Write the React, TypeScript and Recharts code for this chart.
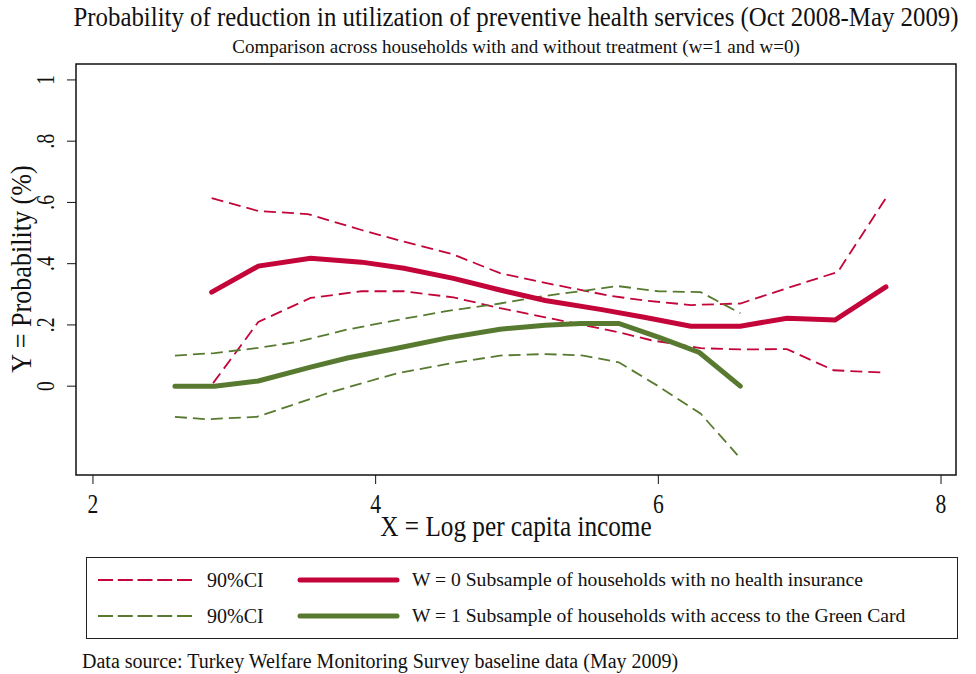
import { LineChart, Line, XAxis, YAxis, ReferenceArea } from 'recharts';

// x = log per capita income, y = probability
const w0Est = [
  { x: 2.84, y: 0.307 }, { x: 3.17, y: 0.392 }, { x: 3.54, y: 0.418 }, { x: 3.9, y: 0.405 },
  { x: 4.2, y: 0.385 }, { x: 4.55, y: 0.352 }, { x: 4.88, y: 0.314 }, { x: 5.2, y: 0.28 },
  { x: 5.6, y: 0.25 }, { x: 5.9, y: 0.225 }, { x: 6.23, y: 0.196 }, { x: 6.58, y: 0.196 },
  { x: 6.91, y: 0.222 }, { x: 7.25, y: 0.216 }, { x: 7.61, y: 0.324 },
];
const w0Upper = [
  { x: 2.84, y: 0.614 }, { x: 3.17, y: 0.572 }, { x: 3.52, y: 0.562 }, { x: 3.9, y: 0.51 },
  { x: 4.2, y: 0.472 }, { x: 4.55, y: 0.43 }, { x: 4.88, y: 0.369 }, { x: 5.17, y: 0.34 },
  { x: 5.66, y: 0.295 }, { x: 5.9, y: 0.28 }, { x: 6.23, y: 0.265 }, { x: 6.58, y: 0.27 },
  { x: 6.91, y: 0.32 }, { x: 7.27, y: 0.373 }, { x: 7.61, y: 0.614 },
];
const w0Lower = [
  { x: 2.85, y: 0.01 }, { x: 3.17, y: 0.21 }, { x: 3.54, y: 0.288 }, { x: 3.9, y: 0.31 },
  { x: 4.2, y: 0.31 }, { x: 4.55, y: 0.29 }, { x: 4.88, y: 0.255 }, { x: 5.2, y: 0.225 },
  { x: 5.71, y: 0.177 }, { x: 5.95, y: 0.15 }, { x: 6.3, y: 0.124 }, { x: 6.58, y: 0.12 },
  { x: 6.91, y: 0.121 }, { x: 7.24, y: 0.052 }, { x: 7.61, y: 0.044 },
];
const w1Est = [
  { x: 2.58, y: 0 }, { x: 2.86, y: 0 }, { x: 3.17, y: 0.017 }, { x: 3.54, y: 0.062 },
  { x: 3.8, y: 0.092 }, { x: 4.15, y: 0.124 }, { x: 4.5, y: 0.157 }, { x: 4.88, y: 0.186 },
  { x: 5.2, y: 0.199 }, { x: 5.45, y: 0.205 }, { x: 5.72, y: 0.205 }, { x: 6.0, y: 0.16 },
  { x: 6.29, y: 0.11 }, { x: 6.58, y: 0 },
];
const w1Upper = [
  { x: 2.58, y: 0.1 }, { x: 2.86, y: 0.108 }, { x: 3.17, y: 0.125 }, { x: 3.44, y: 0.144 },
  { x: 3.8, y: 0.185 }, { x: 4.15, y: 0.216 }, { x: 4.5, y: 0.245 }, { x: 4.88, y: 0.27 },
  { x: 5.2, y: 0.295 }, { x: 5.45, y: 0.31 }, { x: 5.71, y: 0.327 }, { x: 6.0, y: 0.31 },
  { x: 6.3, y: 0.307 }, { x: 6.58, y: 0.238 },
];
const w1Lower = [
  { x: 2.58, y: -0.1 }, { x: 2.8, y: -0.108 }, { x: 3.16, y: -0.1 }, { x: 3.68, y: -0.02 },
  { x: 4.15, y: 0.042 }, { x: 4.5, y: 0.072 }, { x: 4.88, y: 0.1 }, { x: 5.2, y: 0.105 },
  { x: 5.47, y: 0.1 }, { x: 5.72, y: 0.078 }, { x: 6.0, y: 0.0 }, { x: 6.3, y: -0.09 },
  { x: 6.56, y: -0.225 },
];

const xTicks = [2, 4, 6, 8];
const yTicks = [0, 0.2, 0.4, 0.6, 0.8, 1];

const RED = '#c3053a';
const GREEN = '#587a30';
const FONT = '"Liberation Serif", "Times New Roman", serif';

const fmtY = (v: number) => (v === 0 ? '0' : v === 1 ? '1' : String(v).replace(/^0/, ''));

// stata draws its axis labels in a tall, narrow face
function YTick(props: any) {
  const { y, payload } = props;
  return (
    <text x={0} y={0} transform={`translate(46, ${y}) rotate(-90) scale(0.75, 1)`} textAnchor="middle"
      dominantBaseline="central" fontSize={26} fontFamily={FONT} fill="#111">
      {fmtY(payload.value)}
    </text>
  );
}

function XTick(props: any) {
  const { x, payload } = props;
  return (
    <text x={0} y={0} transform={`translate(${x}, 504) scale(0.8, 1)`} textAnchor="middle"
      dominantBaseline="central" fontSize={27} fontFamily={FONT} fill="#111">
      {payload.value}
    </text>
  );
}

const abs = (left: number, top: number, size: number, extra: any = {}) => ({
  position: 'absolute' as const, left, top, fontSize: size, fontFamily: FONT, color: '#111',
  whiteSpace: 'nowrap' as const, lineHeight: 1, ...extra,
});

const dashed = { strokeWidth: 1.8, strokeDasharray: '12 6', dot: false, isAnimationActive: false, type: 'linear' as const };

export default function App() {
  return (
    <div style={{ position: 'absolute', left: 0, top: 0, width: 976, height: 674, background: '#fff' }}>
      <div style={abs(516, 4, 27, { transform: 'translateX(-50%) scaleX(0.92)' })}>
        Probability of reduction in utilization of preventive health services (Oct 2008-May 2009)
      </div>
      <div style={abs(516, 37, 19, { transform: 'translateX(-50%)' })}>
        Comparison across households with and without treatment (w=1 and w=0)
      </div>
      <LineChart width={976} height={674} margin={{ top: 64, left: 16, right: 20, bottom: 159 }}
        style={{ position: 'absolute', left: 0, top: 0 }}>
        <XAxis type="number" dataKey="x" domain={[1.88, 8.106]} ticks={xTicks} allowDataOverflow
          height={40} tickSize={9} stroke="#111" axisLine={false} tickLine={{ stroke: '#111' }} tick={<XTick />} />
        <YAxis type="number" dataKey="y" domain={[-0.29, 1.052]} ticks={yTicks} allowDataOverflow
          width={60} tickSize={9} stroke="#111" axisLine={false} tickLine={{ stroke: '#111' }} tick={<YTick />} />
        <ReferenceArea x1={1.88} x2={8.106} y1={-0.29} y2={1.052} fill="none" stroke="#111" strokeWidth={1.5} />
        <Line data={w0Upper} dataKey="y" stroke={RED} {...dashed} />
        <Line data={w0Lower} dataKey="y" stroke={RED} {...dashed} />
        <Line data={w1Upper} dataKey="y" stroke={GREEN} {...dashed} />
        <Line data={w1Lower} dataKey="y" stroke={GREEN} {...dashed} />
        <Line data={w0Est} dataKey="y" type="linear" stroke={RED} strokeWidth={5} strokeLinecap="round" dot={false} isAnimationActive={false} />
        <Line data={w1Est} dataKey="y" type="linear" stroke={GREEN} strokeWidth={5} strokeLinecap="round" dot={false} isAnimationActive={false} />
      </LineChart>
      <div style={abs(21, 269, 29, { transform: 'translate(-50%, -50%) rotate(-90deg) scaleX(0.9)' })}>Y = Probability (%)</div>
      <div style={abs(516, 512, 29, { transform: 'translateX(-50%) scaleX(0.87)' })}>X = Log per capita income</div>
      <div style={{ position: 'absolute', left: 86, top: 557, width: 870, height: 80, border: '1px solid #222' }}>
        <svg width={870} height={80} style={{ position: 'absolute', left: 0, top: 0 }}>
          <line x1={11} x2={105} y1={22} y2={22} stroke={RED} strokeWidth={1.8} strokeDasharray="15 4.75" />
          <line x1={11} x2={105} y1={58} y2={58} stroke={GREEN} strokeWidth={1.8} strokeDasharray="15 4.75" />
          <line x1={213} x2={310} y1={22} y2={22} stroke={RED} strokeWidth={5} strokeLinecap="round" />
          <line x1={213} x2={310} y1={58} y2={58} stroke={GREEN} strokeWidth={5} strokeLinecap="round" />
        </svg>
        <div style={abs(120, 12, 20)}>90%CI</div>
        <div style={abs(120, 48, 20)}>90%CI</div>
        <div style={abs(325, 12, 19.6)}>W = 0 Subsample of households with no health insurance</div>
        <div style={abs(325, 48, 19.6)}>W = 1 Subsample of households with access to the Green Card</div>
      </div>
      <div style={abs(82, 651, 20)}>Data source: Turkey Welfare Monitoring Survey baseline data (May 2009)</div>
    </div>
  );
}
